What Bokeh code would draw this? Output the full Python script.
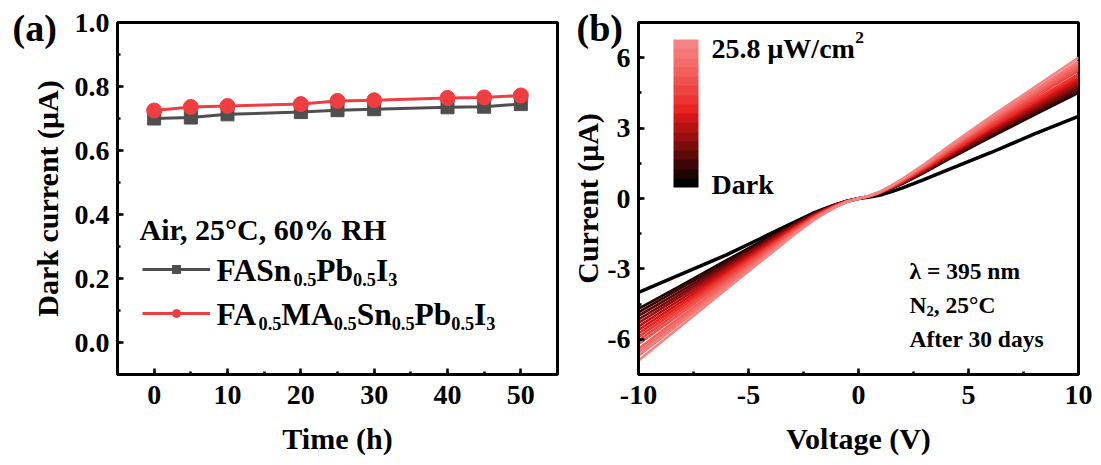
from bokeh.plotting import figure
from bokeh.layouts import row
from bokeh.models import (Label, Legend, LegendItem, ColorBar, LinearColorMapper,
                          FixedTicker, SingleIntervalTicker, PrintfTickFormatter)
from bokeh.embed import file_html
from bokeh.resources import INLINE

# ---------------- data: panel (a) ----------------
TIME_H = [0, 5, 10, 20, 25, 30, 40, 45, 50]
DARK_FASN = [0.700, 0.703, 0.713, 0.720, 0.726, 0.729, 0.735, 0.737, 0.745]
DARK_FAMA = [0.725, 0.736, 0.739, 0.745, 0.755, 0.757, 0.764, 0.766, 0.772]

# ---------------- data: panel (b) ----------------
VOLT = [-10, -8, -6, -4, -3, -2, -1.5, -1, -0.5, 0, 0.5, 1, 1.5, 2, 3, 4, 6, 8, 10]
IV_DARK = [-4.00, -3.20, -2.40, -1.50, -1.05, -0.60, -0.42, -0.25, -0.11, 0.0,
           0.06, 0.15, 0.29, 0.45, 0.82, 1.20, 1.95, 2.75, 3.50]
IV_LIGHT = [
    [-4.70, -3.67, -2.63, -1.60, -1.09, -0.61, -0.41, -0.24, -0.09, 0, 0.09, 0.23, 0.42, 0.63, 1.10, 1.62, 2.61, 3.56, 4.50],
    [-4.85, -3.78, -2.72, -1.65, -1.13, -0.63, -0.43, -0.24, -0.10, 0, 0.09, 0.23, 0.43, 0.64, 1.13, 1.66, 2.67, 3.63, 4.60],
    [-5.00, -3.90, -2.80, -1.70, -1.16, -0.65, -0.44, -0.25, -0.10, 0, 0.09, 0.24, 0.44, 0.66, 1.15, 1.69, 2.73, 3.71, 4.70],
    [-5.15, -4.02, -2.88, -1.75, -1.19, -0.67, -0.45, -0.26, -0.10, 0, 0.10, 0.24, 0.45, 0.67, 1.18, 1.73, 2.78, 3.79, 4.80],
    [-5.30, -4.13, -2.97, -1.80, -1.23, -0.69, -0.47, -0.27, -0.11, 0, 0.10, 0.25, 0.46, 0.69, 1.20, 1.76, 2.84, 3.87, 4.90],
    [-5.45, -4.25, -3.05, -1.85, -1.26, -0.71, -0.48, -0.27, -0.11, 0, 0.10, 0.25, 0.47, 0.70, 1.23, 1.80, 2.90, 3.95, 5.00],
    [-5.60, -4.37, -3.14, -1.90, -1.30, -0.73, -0.49, -0.28, -0.11, 0, 0.10, 0.26, 0.47, 0.71, 1.25, 1.84, 2.96, 4.03, 5.10],
    [-5.75, -4.49, -3.22, -1.96, -1.33, -0.75, -0.51, -0.29, -0.12, 0, 0.10, 0.26, 0.48, 0.73, 1.27, 1.87, 3.02, 4.11, 5.20],
    [-5.90, -4.60, -3.30, -2.01, -1.37, -0.77, -0.52, -0.30, -0.12, 0, 0.11, 0.27, 0.49, 0.74, 1.30, 1.91, 3.07, 4.19, 5.30],
    [-6.05, -4.72, -3.39, -2.06, -1.40, -0.79, -0.53, -0.30, -0.12, 0, 0.11, 0.27, 0.51, 0.76, 1.34, 1.96, 3.16, 4.31, 5.45],
    [-6.20, -4.84, -3.47, -2.11, -1.44, -0.81, -0.55, -0.31, -0.12, 0, 0.11, 0.28, 0.52, 0.78, 1.36, 2.00, 3.22, 4.38, 5.55],
    [-6.40, -4.99, -3.58, -2.18, -1.48, -0.83, -0.56, -0.32, -0.13, 0, 0.11, 0.28, 0.53, 0.79, 1.38, 2.03, 3.28, 4.46, 5.65],
    [-6.55, -5.11, -3.67, -2.23, -1.52, -0.85, -0.58, -0.33, -0.13, 0, 0.12, 0.29, 0.53, 0.81, 1.41, 2.07, 3.34, 4.54, 5.75],
    [-6.70, -5.23, -3.75, -2.28, -1.55, -0.87, -0.59, -0.34, -0.13, 0, 0.12, 0.29, 0.54, 0.82, 1.43, 2.11, 3.39, 4.62, 5.85],
    [-6.90, -5.38, -3.86, -2.35, -1.60, -0.90, -0.61, -0.35, -0.14, 0, 0.12, 0.30, 0.56, 0.84, 1.47, 2.16, 3.48, 4.74, 6.00],
]
PALETTE = ["#000000", "#1f0303", "#3d0606", "#5c0909", "#7a0c0c", "#990f0f",
           "#b71212", "#d51616", "#e82420", "#ec3430", "#ee4440", "#f0524e",
           "#f25f5c", "#f36c69", "#f47875", "#f58582"]
POWER_MAX = 25.8

FONT = "Liberation Serif"
GRAY = "#4f4f4f"
RED = "#ef3e42"

# Times-Bold advance widths (1/1000 em) for composing sub/superscripts
W = {'F': 611, 'A': 722, 'S': 556, 'n': 556, 'P': 611, 'b': 556, 'I': 389, 'M': 944,
     '0': 500, '.': 250, '5': 500, '3': 500, 'N': 722, '2': 500, ',': 250, ' ': 250,
     'C': 722, '°': 400, 'c': 444, 'm': 833, 'W': 1000, '/': 278, 'μ': 576, '8': 500}


def rich(p, x0, y0, parts, size, sub=0.58, color="black"):
    x = x0
    for txt, kind in parts:
        if kind == "n":
            fs, dy = size, 0
        elif kind == "sub":
            fs, dy = size * sub, -size * 0.28
        else:
            fs, dy = size * sub, size * 0.40
        p.add_layout(Label(x=x, y=y0 + dy, x_units="screen", y_units="screen", text=txt,
                           text_font=FONT, text_font_size=f"{fs:.1f}px",
                           text_font_style="bold", text_color=color,
                           text_baseline="alphabetic", text_align="left"))
        x += sum(W.get(c, 500) for c in txt) / 1000 * fs


def panel_tag(p, text, offset):
    t = p.title
    t.text = text
    t.align = "left"
    t.vertical_align = "bottom"
    t.offset = offset
    t.standoff = -52
    t.text_font = FONT
    t.text_font_style = "bold"
    t.text_font_size = "38px"
    t.text_color = "black"


def style(p, xt, yt, fmtx, fmty, xlabel, ylabel):
    p.xgrid.visible = False
    p.ygrid.visible = False
    p.outline_line_color = "black"
    p.outline_line_width = 3
    p.outline_line_alpha = 1
    p.xaxis.ticker = xt
    p.yaxis.ticker = yt
    p.xaxis.formatter = PrintfTickFormatter(format=fmtx)
    p.yaxis.formatter = PrintfTickFormatter(format=fmty)
    p.xaxis.axis_label = xlabel
    p.yaxis.axis_label = ylabel
    for ax in (p.xaxis, p.yaxis):
        ax.axis_line_width = 3
        ax.axis_line_color = "black"
        ax.major_tick_in = 6
        ax.major_tick_out = 0
        ax.minor_tick_in = 3
        ax.minor_tick_out = 0
        ax.major_tick_line_width = 2.5
        ax.minor_tick_line_width = 2.5
        ax.major_label_text_font = FONT
        ax.major_label_text_font_style = "bold"
        ax.major_label_text_font_size = "28px"
        ax.major_label_text_color = "black"
        ax.axis_label_text_font = FONT
        ax.axis_label_text_font_style = "bold"
        ax.axis_label_text_font_size = "30px"
        ax.axis_label_text_color = "black"
    p.xaxis.major_label_standoff = 11
    p.yaxis.major_label_standoff = 8
    p.xaxis.axis_label_standoff = 15


# ---------------- panel (a) ----------------
p1 = figure(width=568, height=464, x_range=(-5, 55), y_range=(-0.1, 1.0),
            output_backend="svg", toolbar_location=None,
            min_border_left=117, min_border_right=11, min_border_top=22, min_border_bottom=90)
style(p1, SingleIntervalTicker(interval=10, num_minor_ticks=2),
      SingleIntervalTicker(interval=0.2, num_minor_ticks=2),
      "%d", "%.1f", "Time (h)", "Dark current (μA)")
p1.yaxis.axis_label_standoff = 8
panel_tag(p1, "(a)", -105)

l1 = p1.line(TIME_H, DARK_FASN, line_color=GRAY, line_width=3)
s1 = p1.scatter(TIME_H, DARK_FASN, marker="square", size=13, fill_color=GRAY, line_color=GRAY)
l2 = p1.line(TIME_H, DARK_FAMA, line_color=RED, line_width=3)
s2 = p1.scatter(TIME_H, DARK_FAMA, marker="circle", size=15, fill_color=RED, line_color=RED)

leg = Legend(items=[LegendItem(label=" ", renderers=[l1, s1]),
                    LegendItem(label=" ", renderers=[l2, s2])],
             location=(25, 51), orientation="vertical", glyph_width=68, glyph_height=20,
             label_height=20, label_width=1, label_text_font_size="1px", spacing=24,
             padding=0, margin=0, border_line_color=None, background_fill_alpha=0,
             label_standoff=0)
p1.add_layout(leg)

rich(p1, 22, 145, [("Air, 25°C, 60% RH", "n")], 30)
rich(p1, 99, 104, [("FASn", "n"), ("0.5", "sub"), ("Pb", "n"), ("0.5", "sub"),
                   ("I", "n"), ("3", "sub")], 31.5)
rich(p1, 99, 60, [("FA", "n"), ("0.5", "sub"), ("MA", "n"), ("0.5", "sub"),
                  ("Sn", "n"), ("0.5", "sub"), ("Pb", "n"), ("0.5", "sub"),
                  ("I", "n"), ("3", "sub")], 31.5)

# ---------------- panel (b) ----------------
p2 = figure(width=528, height=464, x_range=(-10, 10), y_range=(-7.5, 7.5),
            output_backend="svg", toolbar_location=None,
            min_border_left=69, min_border_right=18, min_border_top=22, min_border_bottom=90)
style(p2, SingleIntervalTicker(interval=5, num_minor_ticks=2),
      SingleIntervalTicker(interval=3, num_minor_ticks=2),
      "%d", "%d", "Voltage (V)", "Current (μA)")
p2.yaxis.axis_label_standoff = 0
panel_tag(p2, "(b)", -62)

p2.line(VOLT, IV_DARK, line_color=PALETTE[0], line_width=3.5, line_join="round")
for i, curve in enumerate(IV_LIGHT):
    p2.line(VOLT, curve, line_color=PALETTE[i + 1], line_width=2.6, line_join="round")

cb = ColorBar(color_mapper=LinearColorMapper(palette=PALETTE, low=0, high=POWER_MAX),
              location=(35, 187), orientation="vertical", width=25, height=148,
              padding=0, margin=0, ticker=FixedTicker(ticks=[]),
              major_tick_line_color=None, minor_tick_line_color=None,
              bar_line_color=None, border_line_color=None, background_fill_alpha=0,
              major_label_text_font_size="0px")
p2.add_layout(cb)

rich(p2, 73, 326, [(f"{POWER_MAX} μW/cm", "n"), ("2", "sup")], 28, sub=0.62)
rich(p2, 73, 190, [("Dark", "n")], 28)
rich(p2, 271, 104, [("λ = 395 nm", "n")], 23.5)
rich(p2, 271, 70, [("N", "n"), ("2", "sub"), (", 25°C", "n")], 23.5, sub=0.62)
rich(p2, 271, 36, [("After 30 days", "n")], 23.5)

layout = row(p1, p2)
open("out.html", "w").write(file_html(layout, INLINE))
